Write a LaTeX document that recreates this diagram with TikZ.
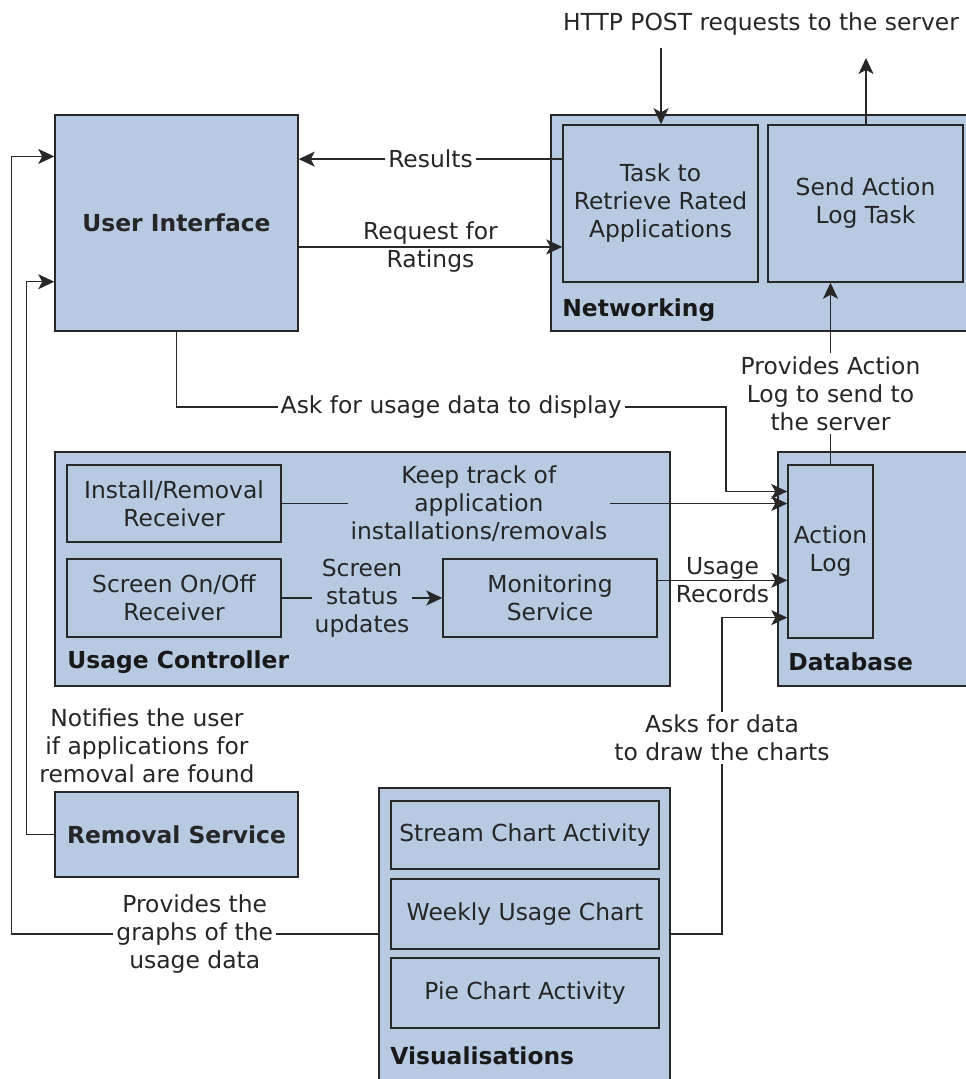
\documentclass[tikz,border=0pt]{standalone}
\usepackage{fontspec}
\setmainfont{DejaVu Sans}
\usetikzlibrary{positioning, arrows.meta, calc}
\definecolor{boxblue}{RGB}{184, 201, 226}
\definecolor{edgegray}{RGB}{40, 40, 40}

\begin{document}
\begin{tikzpicture}[x=0.5pt, y=-0.5pt,
      font=\fontsize{11.7}{14}\selectfont,
      box/.style={draw=edgegray, line width=0.75pt, fill=boxblue,
                  inner sep=0pt, align=center, text=black!85},
      grouplabel/.style={font=\fontsize{11.7}{14}\selectfont\bfseries,
                  anchor=west, inner sep=0pt, text=black!90},
      arr/.style={-{Stealth[length=8pt, width=7.5pt, inset=2pt]},
                  line width=0.75pt, draw=edgegray},
      lbl/.style={align=center, inner sep=1.5pt, text=black!85},
      wlbl/.style={lbl, fill=white},
      blbl/.style={lbl, fill=boxblue}]
    \useasboundingbox (0,0) rectangle (965,1079);
    % groups
    \node[box, minimum width=214.5pt, minimum height=108pt] (net) at (765.5,223) {};
    \node[box, minimum width=101pt, minimum height=117pt] (db) at (879,569) {};
    \node[box, minimum width=307.5pt, minimum height=117pt] (uc) at (362.5,569) {};
    \node[box, minimum width=145.5pt, minimum height=151pt] (vis) at (524.5,939) {};
    \node[grouplabel] at (562,310) {Networking};
    \node[grouplabel] at (788,662) {Database};
    \node[grouplabel] at (67,662) {Usage Controller};
    \node[grouplabel] at (390,1056) {Visualisations};
    % components
    \node[box, minimum width=121.5pt, minimum height=108pt, font=\fontsize{11.7}{14}\selectfont\bfseries] (ui) at (176.5,223) {User Interface};
    \node[box, minimum width=97.5pt, minimum height=78.5pt] (task) at (660.5,203.5) {Task to\\Retrieve Rated\\Applications};
    \node[box, minimum width=97.5pt, minimum height=78.5pt] (send) at (865.5,203.5) {Send Action\\Log Task};
    \node[box, minimum width=42.5pt, minimum height=86.5pt] (log) at (830.5,551.5) {Action\\Log};
    \node[box, minimum width=107pt, minimum height=38.5pt] (inst) at (174,503.5) {Install/Removal\\Receiver};
    \node[box, minimum width=107pt, minimum height=39pt] (scr) at (174,598) {Screen On/Off\\Receiver};
    \node[box, minimum width=107pt, minimum height=39pt] (mon) at (550,598) {Monitoring\\Service};
    \node[box, minimum width=121.5pt, minimum height=42.5pt, font=\fontsize{11.7}{14}\selectfont\bfseries] (rem) at (176.5,834.5) {Removal Service};
    \node[box, minimum width=134pt, minimum height=34pt] (str) at (525,835) {Stream Chart Activity};
    \node[box, minimum width=134pt, minimum height=35pt] (wk) at (525,914) {Weekly Usage Chart};
    \node[box, minimum width=134pt, minimum height=35pt] (pie) at (525,993) {Pie Chart Activity};
    \node[lbl] (http) at (761,24) {HTTP POST requests to the server};
    \node[lbl] (notify) at (147,746) {Notifies the user\\if applications for\\removal are found};
    % connection points
    \coordinate (postin) at (661,48);
    \coordinate (postout) at (866,58);
    \coordinate (bend1) at (726,407);
    \coordinate (bend2) at (722,934);
    \coordinate (a1) at ($(log.north west)!0.156!(log.south west)$);
    \coordinate (a3) at ($(log.north west)!0.665!(log.south west)$);
    \coordinate (a4) at ($(log.north west)!0.879!(log.south west)$);
    \coordinate (u1) at ($(ui.north west)!0.194!(ui.south west)$);
    \coordinate (u2) at ($(ui.north west)!0.77!(ui.south west)$);
    \coordinate (r0) at ($(task.north west)!0.22!(task.south west)$);
    \coordinate (q0) at ($(ui.north east)!0.61!(ui.south east)$);
    % connectors
    \draw[arr] (postin) -- (postin |- task.north);
    \draw[arr] (postout |- send.north) -- (postout);
    \draw[arr] (r0) -- (r0 -| ui.east) node[midway, wlbl] {Results};
    \draw[arr] (q0) -- (q0 -| task.west) node[midway, lbl] {Request for\\Ratings};
    \draw[arr] (log.north) -- (log.north |- send.south)
      node[pos=0.39, wlbl] {Provides Action\\Log to send to\\the server};
    \draw[arr] (ui.south) |- (bend1) node[pos=0.75, wlbl] {Ask for usage data to display} |- (a1);
    \draw[arr] (inst.east) -- (inst.east -| log.west)
      node[pos=0.39, blbl] {Keep track of\\application\\installations/removals};
    \draw[arr] (scr) -- (mon) node[midway, blbl] {Screen\\status\\updates};
    \draw[arr] (mon.east |- a3) -- (a3) node[midway, lbl] {Usage\\Records};
    \draw[arr] (vis.east |- bend2) -- (bend2) |- (a4)
      node[pos=0.31, wlbl] {Asks for data\\to draw the charts};
    \draw[arr] (vis.west |- bend2) -- ++(-367,0)
      node[midway, wlbl] {Provides the\\graphs of the\\usage data} |- (u1);
    \draw[arr] (rem.west) -- ++(-28,0) |- (u2);
  \end{tikzpicture}
\end{document}
